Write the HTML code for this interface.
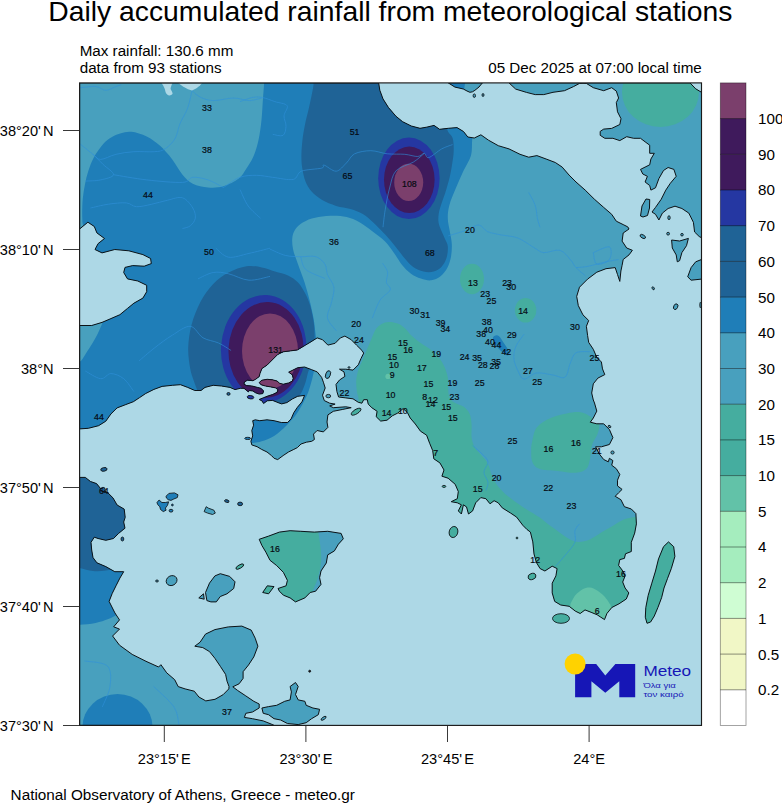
<!DOCTYPE html>
<html><head><meta charset="utf-8"><title>Daily accumulated rainfall</title>
<style>
html,body{margin:0;padding:0;background:#fff;}
body{width:782px;height:804px;overflow:hidden;font-family:"Liberation Sans",sans-serif;}
svg{display:block;font-family:"Liberation Sans",sans-serif;}
.title{font-size:28.3px;fill:#000;}
.sub{font-size:15.2px;fill:#000;}
.ax{font-size:14.6px;fill:#000;}
.cb{font-size:15.2px;fill:#000;}
.foot{font-size:15.3px;fill:#000;}
.st{font-size:8.8px;fill:#050a12;stroke:#050a12;stroke-width:0.2px;text-anchor:middle;}
</style></head><body>
<svg width="782" height="804" viewBox="0 0 782 804">
<rect width="782" height="804" fill="#fff"/>
<text x="390.4" y="21" class="title" text-anchor="middle">Daily accumulated rainfall from meteorological stations</text>
<text x="79.7" y="55.7" class="sub">Max rainfall: 130.6 mm</text>
<text x="79.7" y="72.6" class="sub">data from 93 stations</text>
<text x="701.8" y="72.6" class="sub" text-anchor="end">05 Dec 2025 at 07:00 local time</text>
<defs><clipPath id="frame"><rect x="79.6" y="82.9" width="621.9" height="642.5"/></clipPath>
<clipPath id="land"><path d="M79.6,82.9 L378.7,83.0 L379.8,90.2 L383.0,98.9 L388.5,107.6 L396.0,116.3 L402.6,121.7 L411.3,126.0 L420.0,128.3 L426.5,127.2 L434.0,125.4 L439.6,129.3 L448.3,128.3 L457.0,127.6 L463.5,131.5 L467.8,137.0 L474.3,138.0 L480.9,134.8 L488.5,140.2 L498.3,145.7 L509.0,148.9 L520.0,154.3 L528.7,157.2 L536.9,155.6 L546.1,159.0 L555.3,162.5 L562.2,167.1 L569.1,175.1 L576.0,182.0 L585.2,190.1 L594.5,199.3 L603.7,207.4 L611.7,214.3 L616.3,221.2 L623.2,224.6 L627.8,226.9 L629.0,229.0 L623.2,233.0 L622.1,241.1 L626.7,248.0 L632.4,250.3 L629.0,254.9 L623.2,259.5 L622.1,265.3 L620.9,271.0 L619.8,281.4 L617.5,274.5 L615.2,267.6 L606.0,268.7 L596.8,272.2 L587.6,279.1 L579.5,287.2 L576.7,296.4 L578.3,305.6 L582.9,314.8 L588.7,320.5 L586.4,326.3 L587.6,335.5 L588.7,342.4 L593.3,349.3 L596.8,357.4 L601.4,362.0 L602.5,368.9 L604.8,374.6 L597.9,378.1 L593.3,383.8 L591.7,393.0 L593.3,400.0 L594.5,403.0 L596.8,411.1 L593.3,418.0 L590.3,422.2 L596.8,423.8 L603.7,423.8 L609.4,429.5 L612.9,437.6 L609.4,444.5 L601.4,446.8 L595.6,446.8 L599.1,453.7 L603.7,459.5 L608.3,461.8 L609.4,458.3 L612.9,460.6 L611.7,465.2 L616.3,468.7 L619.8,474.4 L617.5,480.2 L617.5,485.9 L622.1,489.4 L618.6,492.8 L615.2,496.3 L620.9,499.7 L624.4,506.7 L631.3,509.0 L635.9,513.6 L636.4,523.9 L634.7,533.1 L631.3,542.3 L631.3,551.5 L625.5,553.8 L624.4,558.4 L619.8,559.6 L618.6,565.4 L622.1,570.0 L625.1,575.9 L622.7,582.0 L625.1,588.0 L628.8,592.9 L626.3,599.0 L619.0,603.8 L611.8,607.5 L606.9,613.5 L604.5,619.6 L600.8,617.2 L597.2,614.8 L591.1,612.3 L585.0,609.9 L580.2,613.5 L575.3,611.1 L569.2,606.3 L560.7,605.0 L554.7,601.4 L552.2,592.9 L552.2,583.2 L555.9,575.9 L557.1,568.6 L552.2,566.2 L544.9,571.0 L540.1,568.6 L536.4,562.5 L534.0,554.0 L532.8,541.9 L530.4,532.1 L526.9,529.4 L522.8,525.3 L516.6,517.1 L510.5,513.0 L502.3,507.9 L498.2,502.8 L494.1,500.7 L490.0,503.8 L485.9,498.7 L480.8,497.6 L475.7,502.8 L472.6,510.9 L468.5,514.0 L466.5,506.9 L463.4,504.8 L461.4,514.0 L458.3,510.9 L461.4,504.8 L457.3,502.8 L451.2,501.7 L457.3,498.7 L458.3,491.5 L455.2,484.3 L448.1,478.2 L441.9,476.2 L444.0,470.0 L439.9,462.9 L433.8,458.8 L432.7,450.6 L429.7,443.4 L426.6,435.2 L420.5,431.2 L415.3,424.0 L410.2,418.0 L407.4,412.5 L403.1,408.6 L397.7,413.1 L392.3,415.8 L387.0,420.2 L380.7,421.1 L376.2,416.7 L377.1,411.3 L371.8,407.7 L368.2,404.1 L367.3,399.7 L363.7,399.7 L361.9,403.2 L358.3,402.3 L353.0,398.8 L345.8,397.9 L338.6,397.0 L336.9,391.6 L336.0,384.4 L339.5,380.0 L344.9,376.4 L344.0,371.9 L339.5,369.2 L345.8,369.2 L353.0,370.1 L358.3,364.8 L361.0,358.5 L363.7,353.1 L361.9,350.4 L356.5,345.1 L351.2,339.7 L344.9,336.1 L340.4,337.9 L335.1,343.3 L327.9,345.1 L322.5,339.7 L317.2,337.9 L310.0,342.4 L305.2,345.3 L297.5,349.9 L290.3,350.9 L283.1,351.8 L277.7,354.5 L273.2,359.0 L267.2,365.0 L261.9,368.6 L260.1,373.1 L259.2,376.6 L255.6,379.3 L252.9,380.7 L247.5,380.2 L244.4,382.0 L244.0,384.2 L246.6,385.6 L252.0,386.0 L257.4,387.4 L261.0,388.3 L263.6,391.0 L262.8,393.6 L259.2,394.1 L255.6,392.8 L252.9,391.0 L249.3,390.5 L248.4,391.9 L244.0,388.3 L240.4,388.3 L235.0,389.6 L230.0,387.4 L221.4,386.0 L213.2,385.3 L205.0,387.4 L201.0,390.5 L194.8,390.5 L187.7,387.4 L180.5,384.7 L172.3,385.3 L162.1,386.4 L153.9,389.4 L145.7,393.5 L139.6,397.6 L133.4,401.7 L125.2,404.8 L117.1,407.9 L110.9,414.0 L105.8,421.2 L98.6,425.7 L88.4,428.3 L79.6,428.9 L79.6,325.5 L91.7,325.5 L102.0,322.4 L110.9,318.6 L119.9,314.7 L127.5,308.4 L133.9,303.2 L142.9,298.1 L146.7,291.7 L146.7,285.3 L137.8,281.0 L127.5,278.9 L123.7,272.5 L125.0,267.4 L132.7,265.6 L144.2,266.2 L151.3,263.6 L150.6,258.5 L142.9,254.6 L128.8,250.8 L114.8,249.5 L102.0,252.9 L95.0,249.5 L98.1,243.6 L104.5,238.5 L96.9,232.9 L94.3,226.5 L87.9,222.2 L79.6,229.0Z M448.3,82.9 L454.9,87.1 L459.0,88.0 L463.3,89.0 L467.0,91.0 L469.9,92.3 L472.5,91.8 L474.9,90.3 L479.0,87.0 L482.4,82.9Z M509.0,82.9 L515.7,89.1 L526.5,92.4 L535.2,94.6 L543.8,94.6 L553.0,92.3 L564.5,90.7 L573.7,86.5 L579.5,83.4 L583.0,83.2 L586.4,83.4 L593.3,87.7 L603.7,90.7 L611.7,87.7 L616.3,91.1 L618.6,98.0 L616.3,102.6 L617.5,111.8 L621.0,118.7 L619.8,124.5 L611.7,128.4 L603.7,129.1 L600.2,131.4 L600.2,135.3 L604.8,138.3 L612.9,138.3 L619.8,140.6 L626.7,136.7 L633.6,138.3 L640.5,138.3 L645.1,141.8 L649.7,145.2 L649.7,153.3 L654.3,153.3 L650.9,159.0 L649.7,164.8 L645.1,167.1 L640.5,169.4 L642.8,174.0 L647.4,176.3 L645.1,182.0 L649.7,185.5 L650.9,190.1 L655.5,187.8 L658.9,178.6 L663.5,170.5 L668.1,167.5 L673.9,169.4 L676.2,176.3 L670.4,183.2 L665.8,190.1 L661.2,199.3 L655.5,207.4 L652.0,212.0 L655.5,214.3 L658.9,220.0 L662.4,213.1 L668.1,208.5 L675.0,206.2 L681.9,208.5 L688.8,213.1 L693.4,222.3 L694.6,232.0 L699.2,236.5 L701.5,237.7 L701.5,92.3 L695.7,88.8 L690.0,82.9Z M701.5,259.5 L695.7,261.8 L691.1,267.6 L687.7,276.8 L691.1,280.2 L701.5,279.1Z M79.6,477.4 L85.3,477.4 L90.5,481.5 L96.6,483.6 L100.7,488.7 L107.9,492.8 L113.0,497.9 L117.1,505.0 L124.2,509.1 L125.2,517.3 L123.7,522.0 L125.0,528.2 L118.6,533.4 L113.5,538.5 L105.8,540.3 L98.1,538.5 L94.3,537.2 L91.0,542.3 L91.7,550.0 L93.0,557.6 L96.9,562.8 L105.8,566.6 L114.8,571.7 L123.7,571.7 L119.9,578.1 L116.0,585.8 L112.2,593.5 L109.1,601.4 L114.9,612.9 L119.5,619.9 L113.7,626.8 L119.5,629.1 L112.6,636.0 L119.5,645.2 L132.2,654.4 L146.0,661.3 L158.6,667.0 L160.9,664.7 L166.7,672.8 L174.7,679.7 L178.2,686.6 L185.1,688.9 L194.3,691.2 L198.9,697.0 L205.8,700.9 L215.0,699.3 L223.1,694.7 L228.8,688.9 L229.0,686.5 L227.0,681.1 L225.6,674.4 L220.3,666.3 L214.9,658.3 L209.5,651.6 L202.8,647.6 L194.8,646.2 L200.1,642.2 L205.5,634.1 L214.9,629.6 L228.3,626.9 L241.8,626.1 L251.2,630.1 L255.2,638.2 L257.9,646.2 L253.8,656.9 L248.5,665.0 L243.1,671.7 L243.1,678.4 L239.1,683.8 L232.8,686.8 L237.7,690.5 L245.8,695.9 L253.8,701.3 L259.2,704.0 L259.2,708.0 L252.5,712.0 L245.8,713.3 L244.4,717.4 L252.5,718.7 L263.2,720.9 L271.3,724.1 L274.0,725.4 L79.6,725.4Z M259.2,382.5 L261.9,380.2 L267.2,379.3 L272.6,379.8 L277.1,381.1 L279.8,383.4 L283.3,384.2 L288.7,382.9 L292.3,381.1 L293.2,378.4 L292.3,374.8 L288.7,372.2 L292.3,370.4 L297.7,367.7 L304.6,367.0 L311.7,369.7 L317.2,371.9 L321.6,377.3 L323.4,382.2 L325.2,388.0 L322.5,395.2 L324.3,400.6 L329.7,403.2 L335.1,404.1 L329.7,405.9 L333.3,407.7 L345.8,406.8 L351.2,407.7 L342.2,409.5 L333.3,411.3 L327.9,414.9 L327.0,422.0 L327.9,427.4 L323.4,431.9 L317.1,430.5 L313.5,434.1 L314.4,439.5 L311.7,441.3 L306.4,442.2 L301.0,444.0 L297.4,447.6 L293.8,449.4 L288.5,452.0 L283.1,455.6 L277.7,459.6 L274.1,458.3 L271.5,455.6 L267.0,452.0 L261.6,449.4 L257.1,446.7 L251.8,444.9 L250.9,441.3 L252.7,435.9 L251.8,430.6 L253.6,425.2 L252.7,420.7 L255.3,419.8 L259.8,420.7 L267.0,419.8 L274.1,420.7 L281.3,422.5 L287.6,422.5 L291.1,418.9 L293.8,412.7 L297.4,407.3 L301.9,401.9 L304.6,395.4 L297.7,396.3 L292.3,399.0 L286.9,402.6 L281.6,403.9 L278.0,402.6 L272.6,400.4 L267.2,400.8 L263.6,403.5 L261.9,400.8 L259.2,399.5 L263.6,397.7 L268.1,395.9 L272.6,394.5 L277.1,392.3 L278.0,389.6 L275.3,387.8 L270.8,386.9 L265.4,386.0 L261.0,384.7Z M259.2,539.3 L268.6,536.1 L279.4,532.1 L290.1,530.7 L300.8,531.3 L314.3,532.1 L327.7,531.3 L341.1,533.4 L343.3,538.8 L338.4,544.2 L334.4,550.9 L327.7,554.9 L326.3,563.0 L321.0,571.0 L319.6,577.7 L321.0,584.4 L315.6,591.2 L310.2,592.5 L304.9,597.9 L295.5,601.9 L290.1,597.9 L283.4,595.2 L279.4,591.2 L278.0,588.5 L286.1,585.8 L287.4,580.4 L283.4,572.4 L276.7,565.6 L270.0,560.3 L265.9,552.2 L261.9,545.5Z M262.7,592.5 L267.3,585.8 L274.0,586.6 L268.6,593.8Z M206.9,600.6 L205.5,592.5 L209.5,583.1 L214.9,575.9 L220.3,573.7 L229.7,576.4 L235.0,581.8 L233.7,588.5 L227.0,593.8 L220.3,596.5 L216.3,601.9 L210.9,601.9Z M198.8,597.9 L203.5,593.8 L204.2,599.2Z M261.9,708.0 L268.6,706.6 L276.7,705.3 L284.7,701.3 L290.1,699.9 L291.4,691.9 L290.1,686.5 L295.5,682.5 L298.2,686.5 L295.5,694.5 L298.2,699.9 L304.9,701.3 L306.2,705.3 L312.9,708.0 L319.6,709.3 L318.3,714.7 L311.6,718.7 L306.2,722.7 L298.2,724.6 L287.4,723.5 L280.7,720.0 L274.0,718.7 L268.6,714.7 L263.2,713.3Z M668.5,541.9 L663.5,546.7 L658.5,558.9 L655.5,571.0 L651.8,583.2 L648.2,595.3 L645.8,607.5 L645.3,617.2 L647.0,623.3 L650.6,622.0 L654.3,616.0 L657.9,607.5 L661.6,597.7 L664.0,588.0 L667.6,578.3 L671.3,568.6 L674.9,556.4 L673.7,546.7Z M671.6,240.0 L679.6,241.0 L688.4,238.4 L686.5,245.7 L681.9,252.6 L679.6,260.7 L677.3,261.8 L676.2,254.9 L672.3,248.0Z M640.5,216.0 L642.0,206.0 L646.0,199.0 L649.7,199.5 L649.5,208.0 L647.5,215.5 L643.0,217.0Z"/></clipPath></defs>
<g clip-path="url(#frame)">
<rect x="79.6" y="82.9" width="621.9" height="642.5" fill="#add8e6"/>
<g clip-path="url(#land)">
<rect x="79.6" y="82.9" width="621.9" height="642.5" fill="#48a0be"/>
<path d="M60.0,232.0 C63.8,232.0 78.8,233.7 82.5,232.0 C86.2,230.3 82.5,225.3 82.4,222.0 C82.4,218.7 82.1,215.9 82.2,212.0 C82.3,208.1 82.3,203.0 82.8,198.5 C83.2,194.0 84.0,189.4 84.9,184.8 C85.8,180.2 86.8,175.7 88.3,171.1 C89.8,166.5 91.3,162.0 93.8,157.4 C96.3,152.8 100.4,147.1 103.4,143.7 C106.4,140.3 109.1,138.7 112.0,137.0 C114.9,135.3 117.8,134.2 121.0,133.3 C124.2,132.4 127.1,131.3 131.4,131.8 C135.7,132.3 142.0,134.2 146.7,136.4 C151.4,138.7 155.2,141.5 159.5,145.3 C163.8,149.1 168.5,154.5 172.3,159.4 C176.1,164.3 179.1,170.6 182.5,174.7 C185.9,178.8 188.6,181.6 192.8,183.7 C197.1,185.8 202.9,187.1 208.0,187.5 C213.1,187.9 218.4,187.8 223.5,186.3 C228.6,184.8 235.0,181.5 238.8,178.6 C242.6,175.7 243.7,172.7 246.1,169.1 C248.5,165.5 251.2,161.6 253.3,156.8 C255.4,152.0 257.0,146.6 258.4,140.5 C259.8,134.4 260.8,126.8 261.5,120.0 C262.2,113.2 262.5,105.8 262.9,99.6 C263.3,93.4 263.9,87.7 264.1,82.8 C264.3,77.9 264.3,72.1 264.3,70.0 L474.0,120.0 C473.7,123.2 472.7,133.1 472.2,139.0 C471.7,144.9 472.4,150.1 471.0,155.4 C469.6,160.7 466.0,165.3 463.5,170.7 C461.0,176.1 458.3,182.2 455.9,188.0 C453.5,193.8 450.6,200.3 449.3,205.4 C448.0,210.5 447.7,214.1 447.8,218.4 C447.9,222.7 449.1,226.9 449.8,231.2 C450.5,235.4 451.6,239.7 451.8,243.9 C452.0,248.2 451.7,252.8 451.0,256.7 C450.3,260.6 449.2,264.2 447.5,267.5 C445.8,270.8 443.2,274.1 440.5,276.2 C437.8,278.3 434.4,279.9 431.1,280.3 C427.8,280.7 424.3,279.6 420.9,278.5 C417.5,277.4 413.9,275.8 410.7,273.4 C407.5,271.0 404.5,267.8 401.7,264.4 C398.9,261.0 396.8,256.7 394.0,252.9 C391.2,249.1 388.7,245.0 385.1,241.4 C381.5,237.8 376.6,234.4 372.3,231.2 C368.0,228.0 363.8,224.5 359.5,222.2 C355.2,219.8 351.0,218.2 346.7,217.1 C342.4,216.0 338.6,215.8 333.9,215.8 C329.2,215.8 323.3,216.2 318.6,217.1 C313.9,217.9 309.4,219.2 305.8,220.9 C302.2,222.6 299.1,224.7 296.9,227.3 C294.7,229.9 293.1,232.7 292.5,236.3 C291.9,239.9 292.1,244.4 293.0,249.1 C293.9,253.8 296.2,258.9 298.1,264.4 C300.0,269.9 302.6,276.3 304.5,282.3 C306.4,288.3 308.1,294.2 309.6,300.2 C311.1,306.2 312.5,312.6 313.5,318.1 C314.5,323.7 315.0,329.0 315.5,333.5 C316.0,338.0 316.4,340.6 316.5,345.0 C316.6,349.4 316.5,355.3 316.0,360.0 C315.5,364.7 314.4,369.1 313.5,373.3 C312.6,377.5 311.7,381.1 310.5,385.0 C309.3,388.9 308.6,391.9 306.4,396.5 C304.2,401.1 300.7,407.9 297.4,412.7 C294.1,417.5 290.6,421.3 286.7,425.2 C282.8,429.1 278.3,433.2 274.1,435.9 C269.9,438.6 265.2,440.1 261.6,441.3 C258.0,442.5 256.6,442.5 252.7,443.1 C248.8,443.7 240.4,444.7 238.0,445.0 L60.0,470.0 Z" fill="#1f7eb8" />
<path d="M70.0,318.0 C75.7,318.0 98.7,317.0 104.0,318.0 C109.3,319.0 103.4,320.7 102.0,324.0 C100.6,327.3 98.4,332.7 95.6,337.8 C92.8,342.9 88.0,350.4 85.3,354.4 C82.6,358.4 82.0,360.4 79.5,362.0 C77.0,363.6 71.6,363.7 70.0,364.0 Z" fill="#48a0be" />
<path d="M70.0,540.0 C80.8,540.0 124.2,529.0 135.0,540.0 C145.8,551.0 137.7,593.7 135.0,606.0 C132.3,618.3 123.0,611.7 118.6,613.9 C114.2,616.1 112.2,617.5 108.4,619.0 C104.6,620.5 100.4,621.9 95.6,622.9 C90.8,623.9 83.9,624.4 79.6,624.7 C75.3,625.1 71.6,625.0 70.0,625.0 Z" fill="#1f7eb8" />
<ellipse cx="117.5" cy="727" rx="35" ry="33" fill="#1f7eb8"/>
<path d="M494.3,336.0 C495.3,335.4 497.2,334.8 498.8,336.0 C500.4,337.2 502.1,340.3 503.8,343.0 C505.6,345.7 508.7,349.9 509.3,352.0 C509.9,354.1 508.7,355.8 507.3,355.6 C505.9,355.4 502.9,352.7 501.0,351.0 C499.1,349.3 497.3,347.4 496.0,345.5 C494.7,343.6 493.3,341.1 493.0,339.5 C492.7,337.9 493.3,336.6 494.3,336.0Z" fill="#1f7eb8" />
<path d="M446.0,80.0 L465.5,80.0 L463.5,94.0 L446.0,94.0Z" fill="#1f7eb8" />
<path d="M197.9,392.0 C197.2,390.0 194.8,383.9 193.5,380.0 C192.2,376.1 191.1,373.8 190.2,368.5 C189.3,363.2 188.0,355.2 188.2,348.0 C188.4,340.8 189.5,332.7 191.5,325.0 C193.5,317.3 196.8,308.8 200.4,302.0 C204.0,295.2 208.5,288.9 213.2,284.0 C217.9,279.1 223.0,275.5 228.6,272.5 C234.2,269.5 241.0,267.1 246.5,266.2 C252.0,265.3 257.1,266.5 261.8,267.4 C266.6,268.3 270.6,270.1 275.0,271.5 C279.4,272.9 284.2,273.7 288.0,275.5 C291.8,277.3 295.2,279.6 298.0,282.5 C300.8,285.4 303.0,289.2 305.0,293.0 C307.0,296.8 308.6,300.3 310.0,305.0 C311.4,309.7 312.8,316.3 313.6,321.4 C314.4,326.5 314.5,330.9 314.6,335.7 C314.7,340.5 314.5,345.4 314.0,350.0 C313.5,354.6 312.5,359.3 311.5,363.0 C310.5,366.7 309.3,368.5 308.2,372.0 C307.1,375.5 306.4,380.2 305.0,384.0 C303.6,387.8 302.2,391.8 300.0,395.0 C297.8,398.2 295.7,401.0 292.0,403.0 C288.3,405.0 283.0,406.3 278.0,407.0 C273.0,407.7 267.5,407.7 262.0,407.0 C256.5,406.3 251.2,404.3 245.0,403.0 C238.8,401.7 231.7,400.3 225.0,399.0 C218.3,397.7 208.3,395.7 205.0,395.0 Z" fill="#1f6396" />
<path d="M313.7,70.0 C313.7,72.1 314.0,78.5 313.7,82.8 C313.4,87.0 312.5,91.0 311.6,95.5 C310.7,100.0 309.6,105.0 308.5,109.8 C307.4,114.6 306.1,119.0 305.1,124.1 C304.1,129.2 303.0,135.1 302.4,140.5 C301.8,145.9 301.4,152.0 301.4,156.8 C301.4,161.6 301.7,165.0 302.4,169.1 C303.1,173.2 304.0,177.7 305.5,181.4 C307.0,185.2 308.9,188.5 311.6,191.6 C314.3,194.7 317.7,197.4 321.8,199.8 C325.9,202.2 331.4,204.4 336.2,205.9 C341.0,207.4 346.1,207.6 350.5,209.0 C354.9,210.4 359.1,211.9 362.8,214.1 C366.6,216.3 369.6,219.2 373.0,222.3 C376.4,225.4 380.3,229.5 383.2,232.5 C386.1,235.5 388.1,237.6 390.5,240.5 C392.9,243.4 395.4,246.7 397.9,249.8 C400.4,252.9 402.9,256.4 405.5,259.3 C408.1,262.2 410.2,264.9 413.2,267.0 C416.2,269.1 420.1,270.8 423.5,271.6 C426.9,272.4 430.7,272.4 433.7,271.6 C436.7,270.8 439.3,269.3 441.4,267.0 C443.5,264.7 445.4,261.4 446.5,258.0 C447.6,254.6 448.1,249.7 447.8,246.5 C447.6,243.3 446.0,241.5 445.0,239.0 C444.0,236.5 442.8,234.2 441.7,231.5 C440.6,228.8 439.1,225.9 438.6,222.8 C438.1,219.8 438.3,216.5 438.8,213.2 C439.3,209.9 440.6,206.5 441.7,203.0 C442.8,199.5 444.2,196.2 445.5,192.0 C446.8,187.8 448.4,182.5 449.5,178.0 C450.6,173.5 451.3,169.5 452.0,165.0 C452.7,160.5 453.6,155.5 453.7,151.0 C453.8,146.5 453.7,141.6 452.6,138.0 C451.5,134.4 448.1,134.0 447.2,129.3 C446.3,124.6 447.0,113.2 447.0,110.0 L447.0,70.0 Z" fill="#1f6396" />
<path d="M70.0,470.0 C80.8,470.0 124.2,457.5 135.0,470.0 C145.8,482.5 137.5,529.0 135.0,545.0 C132.5,561.0 124.9,561.8 120.0,566.0 C115.1,570.2 110.3,569.6 105.8,570.4 C101.3,571.2 97.4,571.4 93.0,571.0 C88.6,570.6 83.4,568.6 79.6,567.9 C75.8,567.2 71.6,567.1 70.0,567.0 Z" fill="#1f6396" />
<g fill="#2537a2"><ellipse cx="263.7" cy="349" rx="42.7" ry="54" transform="rotate(3 263.7 349)"/><ellipse cx="408.9" cy="178.3" rx="30.7" ry="40.7" transform="rotate(0 408.9 178.3)"/></g>
<g fill="#3f1a5c"><ellipse cx="266" cy="350" rx="37.5" ry="48" transform="rotate(3 266 350)"/><ellipse cx="409.3" cy="179.8" rx="25.3" ry="33.2" transform="rotate(0 409.3 179.8)"/></g>
<g fill="#7b3f6c"><ellipse cx="270" cy="351" rx="28" ry="37.5" transform="rotate(0 270 351)"/><ellipse cx="408.7" cy="182.4" rx="14.5" ry="18.7" transform="rotate(0 408.7 182.4)"/></g>
<path d="M350.0,415.0 C351.4,412.8 357.2,405.4 358.3,401.5 C359.4,397.6 357.2,395.0 356.9,391.6 C356.5,388.2 356.0,384.5 356.2,380.9 C356.4,377.3 357.2,373.7 358.3,370.1 C359.4,366.5 361.3,363.0 362.8,359.4 C364.3,355.8 365.8,352.2 367.3,348.6 C368.8,345.0 370.3,341.2 371.8,337.9 C373.3,334.6 374.6,330.9 376.2,328.6 C377.8,326.3 379.5,325.0 381.6,323.9 C383.7,322.8 386.1,322.1 388.8,322.0 C391.5,321.9 395.0,322.6 397.7,323.6 C400.4,324.6 402.5,326.1 404.9,328.2 C407.3,330.3 409.3,333.6 412.0,336.1 C414.7,338.6 417.7,340.9 421.0,343.3 C424.3,345.7 428.7,348.0 431.7,350.4 C434.7,352.8 436.8,354.9 438.9,357.6 C441.0,360.3 442.8,363.2 444.3,366.5 C445.8,369.8 447.2,374.0 447.8,377.3 C448.4,380.6 447.9,382.9 448.1,386.1 C448.3,389.3 448.1,393.7 449.1,396.4 C450.1,399.1 451.8,400.8 454.2,402.5 C456.6,404.2 460.8,404.7 463.4,406.6 C466.0,408.5 468.2,410.7 469.6,413.8 C471.0,416.9 471.3,421.1 471.6,425.0 C471.9,428.9 471.1,433.6 471.6,437.3 C472.1,441.1 473.0,444.4 474.7,447.5 C476.4,450.6 479.6,453.0 481.8,455.7 C484.0,458.4 486.3,460.5 488.0,463.9 C489.7,467.3 490.4,472.4 492.1,476.2 C493.8,479.9 495.5,483.0 498.2,486.4 C500.9,489.8 504.3,493.2 508.4,496.6 C512.5,500.0 517.7,503.5 522.8,506.9 C527.9,510.3 535.2,514.5 539.1,517.1 C543.0,519.7 543.2,520.4 546.0,522.5 C548.8,524.6 552.2,527.1 555.9,529.7 C559.6,532.3 564.4,536.2 568.0,538.2 C571.6,540.2 574.1,541.7 577.7,541.9 C581.4,542.1 585.9,541.0 589.9,539.4 C593.9,537.8 598.0,534.5 602.0,532.1 C606.0,529.7 610.5,527.0 614.2,524.9 C617.9,522.8 621.0,520.6 624.4,519.3 C627.8,518.0 630.4,517.9 634.7,517.0 C639.0,516.1 647.5,514.5 650.0,514.0 L690.0,514.0 L690.0,640.0 L500.0,640.0 L400.0,470.0 Z" fill="#45ad9f" />
<path d="M532.3,441.0 C533.2,437.2 533.8,431.0 536.9,427.2 C540.0,423.4 545.7,420.3 550.7,418.0 C555.7,415.7 561.8,414.3 566.8,413.4 C571.8,412.4 576.6,411.7 580.6,412.3 C584.6,412.9 587.9,415.0 591.0,416.9 C594.1,418.8 597.9,420.9 599.0,423.8 C600.1,426.7 598.6,430.7 597.5,434.1 C596.4,437.6 593.5,440.3 592.2,444.5 C590.9,448.7 590.9,455.5 589.9,459.5 C588.9,463.5 588.7,466.5 586.4,468.7 C584.1,470.9 580.8,472.4 576.0,472.8 C571.2,473.2 563.7,471.7 557.6,471.0 C551.5,470.3 543.4,470.2 539.2,468.7 C535.0,467.2 533.6,464.9 532.3,461.8 C531.0,458.7 531.2,453.7 531.2,450.2 C531.2,446.7 531.3,444.8 532.3,441.0Z" fill="#45ad9f" />
<g fill="#45ad9f"><ellipse cx="472" cy="279" rx="12" ry="15.3" transform="rotate(0 472 279)"/><ellipse cx="525.6" cy="310.2" rx="10.7" ry="12.3" transform="rotate(0 525.6 310.2)"/><ellipse cx="660.5" cy="92" rx="38.5" ry="35" transform="rotate(0 660.5 92)"/></g>
<path d="M259.2,539.3 L268.6,536.1 L279.4,532.1 L290.1,530.7 L300.8,531.3 L314.3,532.1 L327.7,531.3 L341.1,533.4 L343.3,538.8 L338.4,544.2 L334.4,550.9 L327.7,554.9 L326.3,563.0 L321.0,571.0 L319.6,577.7 L321.0,584.4 L315.6,591.2 L310.2,592.5 L304.9,597.9 L295.5,601.9 L290.1,597.9 L283.4,595.2 L279.4,591.2 L278.0,588.5 L286.1,585.8 L287.4,580.4 L283.4,572.4 L276.7,565.6 L270.0,560.3 L265.9,552.2 L261.9,545.5Z" fill="#45ad9f" />
<path d="M262.7,592.5 L267.3,585.8 L274.0,586.6 L268.6,593.8Z" fill="#45ad9f" />
<path d="M317.0,525.0 C317.6,528.6 319.8,540.6 320.5,546.9 C321.2,553.2 321.5,557.6 321.0,563.0 C320.5,568.4 318.9,574.4 317.5,579.0 C316.1,583.6 314.3,586.6 312.9,590.4 C311.5,594.2 309.6,600.1 309.0,602.0 L352.0,602.0 L352.0,525.0 Z" fill="#48a0be" />
<path d="M570.5,603.8 C571.3,602.4 573.3,597.7 575.3,595.3 C577.3,592.9 580.2,590.5 582.6,589.2 C585.0,587.9 587.5,587.3 589.9,587.5 C592.3,587.7 594.8,589.0 597.2,590.5 C599.6,592.0 602.3,594.1 604.5,596.5 C606.7,598.9 609.6,603.6 610.6,605.0 L614.0,626.0 L568.0,626.0 Z" fill="#62c2a8" />
<circle cx="388" cy="376.4" r="2.6" fill="#62c2a8"/>
<path d="M80,87.8 C82.6,87.6 91.3,86.1 95.6,86.5 C99.9,86.9 102.4,90.3 105.8,90.3 C109.2,90.3 113.4,87.4 116.0,86.5 C118.6,85.6 120.3,85.0 121.2,84.7" fill="none" stroke="#3192dc" stroke-opacity="0.7" stroke-width="0.85"/>
<path d="M192.1,90.5 C191.3,93.5 189.6,102.7 187.6,108.2 C185.6,113.7 182.1,118.5 180.0,123.6 C177.9,128.7 177.5,134.6 174.9,138.9 C172.3,143.2 168.0,147.1 164.6,149.2 C161.2,151.3 159.5,151.3 154.4,151.7 C149.3,152.1 140.3,151.3 133.9,151.7 C127.5,152.1 121.5,153.0 116.0,154.3 C110.5,155.6 104.5,159.4 100.7,159.4 C96.9,159.4 96.4,156.9 93.0,154.3 C89.6,151.7 82.3,145.7 80.2,144.0" fill="none" stroke="#3192dc" stroke-opacity="0.7" stroke-width="0.85"/>
<path d="M192.1,90.5 C193.4,91.6 196.5,95.3 200.0,97.0 C203.5,98.7 207.6,100.4 213.2,100.6 C218.8,100.8 227.7,98.0 233.7,98.0 C239.7,98.0 244.3,100.6 249.0,100.6 C253.7,100.6 259.7,98.4 261.8,98.0" fill="none" stroke="#3192dc" stroke-opacity="0.7" stroke-width="0.85"/>
<path d="M93,154.3 C94.7,156.0 99.8,161.1 103.2,164.5 C106.6,167.9 113.9,172.1 113.5,174.7 C113.1,177.3 105.4,178.8 100.7,179.9 C96.0,181.0 87.9,180.9 85.3,181.1" fill="none" stroke="#3192dc" stroke-opacity="0.7" stroke-width="0.85"/>
<path d="M113.5,174.7 C119.0,175.6 135.2,178.6 146.7,179.9 C158.2,181.2 174.8,182.8 182.5,182.4 C190.2,182.0 188.6,177.7 192.8,177.3 C197.1,176.9 202.9,178.2 208.0,179.9 C213.1,181.6 220.9,186.2 223.5,187.5" fill="none" stroke="#3192dc" stroke-opacity="0.7" stroke-width="0.85"/>
<path d="M90.5,208 C93.5,207.4 102.4,205.0 108.4,204.2 C114.4,203.3 121.6,202.5 126.3,202.9 C131.0,203.3 132.2,206.5 136.5,206.7 C140.8,206.9 146.7,205.3 151.8,204.2 C156.9,203.1 162.1,201.4 167.2,200.3 C172.3,199.2 178.2,196.5 182.5,197.8 C186.8,199.1 190.7,204.6 192.8,208.0 C194.9,211.4 195.7,215.2 195.3,218.2 C194.9,221.2 192.3,224.2 190.2,225.9 C188.1,227.6 183.8,228.1 182.5,228.5" fill="none" stroke="#3192dc" stroke-opacity="0.7" stroke-width="0.85"/>
<path d="M240,101.6 C242.1,100.9 248.6,98.2 252.3,97.5 C256.1,96.8 258.8,96.8 262.5,97.5 C266.2,98.2 270.7,100.2 274.8,101.6 C278.9,103.0 285.6,103.3 287.1,105.7 C288.6,108.1 284.2,112.5 284.0,115.9 C283.8,119.3 286.2,123.0 286.0,126.2 C285.8,129.4 285.2,134.1 283.0,135.4 C280.8,136.8 274.4,134.5 272.7,134.3" fill="none" stroke="#3192dc" stroke-opacity="0.7" stroke-width="0.85"/>
<path d="M223.5,187.5 C226.2,185.8 234.5,179.3 240.0,177.3 C245.5,175.3 250.9,175.3 256.4,175.3 C261.8,175.3 266.6,176.6 272.7,177.3 C278.8,178.0 288.4,180.4 293.2,179.4 C298.0,178.4 296.6,173.1 301.4,171.2 C306.2,169.3 318.1,169.1 321.8,168.1 C325.6,167.1 321.5,164.5 323.9,165.0 C326.3,165.5 332.4,171.5 336.2,171.2 C339.9,170.9 343.3,165.9 346.4,163.0 C349.5,160.1 350.5,155.9 354.6,153.8 C358.7,151.8 365.4,150.7 370.9,150.7 C376.3,150.7 381.6,153.2 387.3,153.8 C393.0,154.4 399.7,153.9 404.8,154.3 C409.9,154.8 414.6,156.7 417.8,156.5 C421.1,156.3 422.5,153.1 424.3,153.3 C426.1,153.5 425.8,158.3 428.7,157.6 C431.6,156.9 437.7,151.1 441.7,148.9 C445.7,146.7 450.8,145.3 452.6,144.6" fill="none" stroke="#3192dc" stroke-opacity="0.7" stroke-width="0.85"/>
<path d="M240,189.6 C241.4,192.3 244.8,201.2 248.2,206.0 C251.6,210.8 258.4,216.2 260.5,218.2" fill="none" stroke="#3192dc" stroke-opacity="0.7" stroke-width="0.85"/>
<path d="M424.3,153.3 C422.5,154.8 418.2,159.1 413.5,162.0 C408.8,164.9 400.1,166.4 396.1,170.7 C392.1,175.0 391.4,181.5 389.6,188.0 C387.8,194.5 386.3,203.3 385.2,209.8 C384.1,216.3 383.4,224.3 383.0,227.2" fill="none" stroke="#3192dc" stroke-opacity="0.7" stroke-width="0.85"/>
<path d="M448.3,235.9 C451.2,235.0 460.6,232.2 465.7,230.4 C470.8,228.6 475.1,224.8 478.7,225.0 C482.3,225.2 483.8,229.9 487.4,231.5 C491.0,233.1 495.3,233.7 500.4,234.8 C505.5,235.9 512.1,235.8 517.8,238.0 C523.5,240.2 530.3,245.6 534.6,248.0 C538.9,250.4 539.6,252.2 543.8,252.6 C548.0,253.0 555.5,249.2 559.9,250.3 C564.3,251.5 567.6,256.6 570.3,259.5 C573.0,262.4 573.5,264.9 576.0,267.6 C578.5,270.3 583.7,274.3 585.2,275.6" fill="none" stroke="#3192dc" stroke-opacity="0.7" stroke-width="0.85"/>
<path d="M528.7,192.4 C529.8,194.6 533.8,201.1 535.2,205.4 C536.7,209.8 536.6,214.9 537.4,218.5 C538.2,222.1 539.6,225.8 540.0,227.2" fill="none" stroke="#3192dc" stroke-opacity="0.7" stroke-width="0.85"/>
<path d="M270,249.1 C272.6,250.2 280.2,254.1 285.3,255.4 C290.4,256.7 295.6,256.5 300.7,256.7 C305.8,256.9 311.9,255.4 316.0,256.7 C320.1,258.0 323.1,261.4 325.0,264.4 C326.9,267.4 326.0,270.8 327.5,274.6 C329.0,278.4 333.2,282.7 333.9,287.4 C334.5,292.1 332.5,297.7 331.4,302.8 C330.3,307.9 326.6,313.4 327.5,318.1 C328.4,322.8 335.0,328.8 336.5,330.9" fill="none" stroke="#3192dc" stroke-opacity="0.7" stroke-width="0.85"/>
<path d="M300.7,256.7 C301.6,258.8 301.8,265.9 305.8,269.5 C309.9,273.1 321.8,277.0 325.0,278.5" fill="none" stroke="#3192dc" stroke-opacity="0.7" stroke-width="0.85"/>
<path d="M382.5,263.1 C383.4,264.6 387.0,268.9 387.6,272.1 C388.2,275.3 386.0,279.3 386.4,282.3 C386.8,285.3 391.3,287.0 390.2,290.0 C389.1,293.0 383.0,295.5 380.0,300.2 C377.0,304.9 373.6,315.1 372.3,318.1" fill="none" stroke="#3192dc" stroke-opacity="0.7" stroke-width="0.85"/>
<path d="M524.1,334.1 C522.7,336.2 517.6,342.3 515.9,346.4 C514.2,350.5 513.5,354.6 513.9,358.7 C514.2,362.8 516.3,367.5 518.0,370.9 C519.7,374.3 521.0,378.8 524.1,379.1 C527.2,379.5 531.6,373.7 536.4,373.0 C541.2,372.3 548.0,374.3 552.8,375.0 C557.6,375.7 562.1,379.1 565.0,377.1 C567.9,375.1 568.5,367.2 570.3,363.1 C572.1,359.1 572.7,354.7 576.0,352.8 C579.3,350.9 587.6,351.8 589.9,351.6" fill="none" stroke="#3192dc" stroke-opacity="0.7" stroke-width="0.85"/>
<path d="M593.3,252.6 C596.0,251.7 606.7,245.8 609.4,246.9 C612.1,248.1 611.5,256.6 609.4,259.5 C607.3,262.4 599.5,265.2 596.8,264.1 C594.1,263.0 593.9,254.5 593.3,252.6" fill="none" stroke="#3192dc" stroke-opacity="0.7" stroke-width="0.85"/>
<path d="M576,267.6 C577.9,267.4 582.6,267.4 587.6,266.4 C592.6,265.4 600.8,262.9 606.0,261.8 C611.2,260.7 616.5,259.9 618.6,259.5" fill="none" stroke="#3192dc" stroke-opacity="0.7" stroke-width="0.85"/>
<path d="M579.5,523.9 C578.7,525.0 575.7,527.7 574.9,530.8 C574.1,533.9 576.6,538.1 574.9,542.3 C573.2,546.5 567.8,552.1 564.5,556.1 C561.2,560.1 556.8,564.8 555.3,566.5" fill="none" stroke="#3192dc" stroke-opacity="0.7" stroke-width="0.85"/>
<path d="M472.6,445.5 C474.1,446.9 479.2,451.0 481.8,453.7 C484.4,456.4 487.6,458.7 488.0,461.8 C488.4,464.9 483.9,468.7 483.9,472.1 C483.9,475.5 487.7,479.2 488.0,482.3 C488.3,485.4 486.2,489.1 485.9,490.5" fill="none" stroke="#3192dc" stroke-opacity="0.7" stroke-width="0.85"/>
<path d="M197.9,278.9 C200.4,277.8 208.1,273.4 213.2,272.5 C218.3,271.6 222.6,272.5 228.6,273.8 C234.6,275.1 242.1,279.8 249.0,280.2 C255.9,280.6 266.5,277.0 270.0,276.4" fill="none" stroke="#3192dc" stroke-opacity="0.7" stroke-width="0.85"/>
<path d="M139.1,360.8 C141.7,358.7 148.9,352.3 154.4,348.0 C159.9,343.7 166.3,338.8 172.3,335.2 C178.3,331.6 185.1,325.9 190.2,326.3 C195.3,326.7 198.3,335.0 203.0,337.8 C207.7,340.6 213.6,340.8 218.3,342.9 C223.0,345.0 229.0,349.2 231.1,350.5" fill="none" stroke="#3192dc" stroke-opacity="0.7" stroke-width="0.85"/>
<path d="M85.3,371 C87.9,372.3 96.4,378.3 100.7,378.7 C105.0,379.1 107.1,373.6 110.9,373.6 C114.7,373.6 119.9,375.7 123.7,378.7 C127.5,381.7 132.2,389.4 133.9,391.5" fill="none" stroke="#3192dc" stroke-opacity="0.7" stroke-width="0.85"/>
<path d="M215.8,248.2 C217.9,249.7 223.1,256.3 228.6,257.2 C234.1,258.1 242.1,254.9 249.0,253.4 C255.9,251.9 266.5,249.1 270.0,248.2" fill="none" stroke="#3192dc" stroke-opacity="0.7" stroke-width="0.85"/>
<path d="M84.4,660.9 C88.2,661.8 103.1,661.8 107.4,666.0 C111.7,670.2 110.8,679.6 110.0,686.4 C109.2,693.2 103.6,703.5 102.3,706.9" fill="none" stroke="#3192dc" stroke-opacity="0.7" stroke-width="0.85"/>
<path d="M153.5,686.4 C156.9,689.8 169.7,700.4 173.9,706.9 C178.2,713.4 178.2,722.2 179.0,725.3" fill="none" stroke="#3192dc" stroke-opacity="0.7" stroke-width="0.85"/>
</g>
<path d="M162.1,82.0 C160.7,82.7 162.9,84.8 163.4,86.0 C163.9,87.2 164.4,87.8 164.8,89.0 C165.2,90.2 165.4,92.1 166.1,93.2 C166.8,94.3 168.1,95.3 169.2,95.5 C170.2,95.7 171.9,94.8 172.4,94.1 C172.9,93.4 172.2,92.3 171.9,91.4 C171.6,90.5 170.7,89.7 170.6,88.7 C170.5,87.7 171.3,86.3 171.5,85.2 C171.7,84.1 173.5,82.5 171.9,82.0 C170.3,81.5 163.5,81.3 162.1,82.0Z" fill="#add8e6" />
<path d="M176.9,82.0 L183.0,86.5 L188.0,89.3 L192.1,90.5 L196.5,88.3 L200.0,85.5 L202.8,82.0Z" fill="#add8e6" />
<path d="M79.6,82.9 L378.7,83.0 L379.8,90.2 L383.0,98.9 L388.5,107.6 L396.0,116.3 L402.6,121.7 L411.3,126.0 L420.0,128.3 L426.5,127.2 L434.0,125.4 L439.6,129.3 L448.3,128.3 L457.0,127.6 L463.5,131.5 L467.8,137.0 L474.3,138.0 L480.9,134.8 L488.5,140.2 L498.3,145.7 L509.0,148.9 L520.0,154.3 L528.7,157.2 L536.9,155.6 L546.1,159.0 L555.3,162.5 L562.2,167.1 L569.1,175.1 L576.0,182.0 L585.2,190.1 L594.5,199.3 L603.7,207.4 L611.7,214.3 L616.3,221.2 L623.2,224.6 L627.8,226.9 L629.0,229.0 L623.2,233.0 L622.1,241.1 L626.7,248.0 L632.4,250.3 L629.0,254.9 L623.2,259.5 L622.1,265.3 L620.9,271.0 L619.8,281.4 L617.5,274.5 L615.2,267.6 L606.0,268.7 L596.8,272.2 L587.6,279.1 L579.5,287.2 L576.7,296.4 L578.3,305.6 L582.9,314.8 L588.7,320.5 L586.4,326.3 L587.6,335.5 L588.7,342.4 L593.3,349.3 L596.8,357.4 L601.4,362.0 L602.5,368.9 L604.8,374.6 L597.9,378.1 L593.3,383.8 L591.7,393.0 L593.3,400.0 L594.5,403.0 L596.8,411.1 L593.3,418.0 L590.3,422.2 L596.8,423.8 L603.7,423.8 L609.4,429.5 L612.9,437.6 L609.4,444.5 L601.4,446.8 L595.6,446.8 L599.1,453.7 L603.7,459.5 L608.3,461.8 L609.4,458.3 L612.9,460.6 L611.7,465.2 L616.3,468.7 L619.8,474.4 L617.5,480.2 L617.5,485.9 L622.1,489.4 L618.6,492.8 L615.2,496.3 L620.9,499.7 L624.4,506.7 L631.3,509.0 L635.9,513.6 L636.4,523.9 L634.7,533.1 L631.3,542.3 L631.3,551.5 L625.5,553.8 L624.4,558.4 L619.8,559.6 L618.6,565.4 L622.1,570.0 L625.1,575.9 L622.7,582.0 L625.1,588.0 L628.8,592.9 L626.3,599.0 L619.0,603.8 L611.8,607.5 L606.9,613.5 L604.5,619.6 L600.8,617.2 L597.2,614.8 L591.1,612.3 L585.0,609.9 L580.2,613.5 L575.3,611.1 L569.2,606.3 L560.7,605.0 L554.7,601.4 L552.2,592.9 L552.2,583.2 L555.9,575.9 L557.1,568.6 L552.2,566.2 L544.9,571.0 L540.1,568.6 L536.4,562.5 L534.0,554.0 L532.8,541.9 L530.4,532.1 L526.9,529.4 L522.8,525.3 L516.6,517.1 L510.5,513.0 L502.3,507.9 L498.2,502.8 L494.1,500.7 L490.0,503.8 L485.9,498.7 L480.8,497.6 L475.7,502.8 L472.6,510.9 L468.5,514.0 L466.5,506.9 L463.4,504.8 L461.4,514.0 L458.3,510.9 L461.4,504.8 L457.3,502.8 L451.2,501.7 L457.3,498.7 L458.3,491.5 L455.2,484.3 L448.1,478.2 L441.9,476.2 L444.0,470.0 L439.9,462.9 L433.8,458.8 L432.7,450.6 L429.7,443.4 L426.6,435.2 L420.5,431.2 L415.3,424.0 L410.2,418.0 L407.4,412.5 L403.1,408.6 L397.7,413.1 L392.3,415.8 L387.0,420.2 L380.7,421.1 L376.2,416.7 L377.1,411.3 L371.8,407.7 L368.2,404.1 L367.3,399.7 L363.7,399.7 L361.9,403.2 L358.3,402.3 L353.0,398.8 L345.8,397.9 L338.6,397.0 L336.9,391.6 L336.0,384.4 L339.5,380.0 L344.9,376.4 L344.0,371.9 L339.5,369.2 L345.8,369.2 L353.0,370.1 L358.3,364.8 L361.0,358.5 L363.7,353.1 L361.9,350.4 L356.5,345.1 L351.2,339.7 L344.9,336.1 L340.4,337.9 L335.1,343.3 L327.9,345.1 L322.5,339.7 L317.2,337.9 L310.0,342.4 L305.2,345.3 L297.5,349.9 L290.3,350.9 L283.1,351.8 L277.7,354.5 L273.2,359.0 L267.2,365.0 L261.9,368.6 L260.1,373.1 L259.2,376.6 L255.6,379.3 L252.9,380.7 L247.5,380.2 L244.4,382.0 L244.0,384.2 L246.6,385.6 L252.0,386.0 L257.4,387.4 L261.0,388.3 L263.6,391.0 L262.8,393.6 L259.2,394.1 L255.6,392.8 L252.9,391.0 L249.3,390.5 L248.4,391.9 L244.0,388.3 L240.4,388.3 L235.0,389.6 L230.0,387.4 L221.4,386.0 L213.2,385.3 L205.0,387.4 L201.0,390.5 L194.8,390.5 L187.7,387.4 L180.5,384.7 L172.3,385.3 L162.1,386.4 L153.9,389.4 L145.7,393.5 L139.6,397.6 L133.4,401.7 L125.2,404.8 L117.1,407.9 L110.9,414.0 L105.8,421.2 L98.6,425.7 L88.4,428.3 L79.6,428.9 L79.6,325.5 L91.7,325.5 L102.0,322.4 L110.9,318.6 L119.9,314.7 L127.5,308.4 L133.9,303.2 L142.9,298.1 L146.7,291.7 L146.7,285.3 L137.8,281.0 L127.5,278.9 L123.7,272.5 L125.0,267.4 L132.7,265.6 L144.2,266.2 L151.3,263.6 L150.6,258.5 L142.9,254.6 L128.8,250.8 L114.8,249.5 L102.0,252.9 L95.0,249.5 L98.1,243.6 L104.5,238.5 L96.9,232.9 L94.3,226.5 L87.9,222.2 L79.6,229.0Z M448.3,82.9 L454.9,87.1 L459.0,88.0 L463.3,89.0 L467.0,91.0 L469.9,92.3 L472.5,91.8 L474.9,90.3 L479.0,87.0 L482.4,82.9Z M509.0,82.9 L515.7,89.1 L526.5,92.4 L535.2,94.6 L543.8,94.6 L553.0,92.3 L564.5,90.7 L573.7,86.5 L579.5,83.4 L583.0,83.2 L586.4,83.4 L593.3,87.7 L603.7,90.7 L611.7,87.7 L616.3,91.1 L618.6,98.0 L616.3,102.6 L617.5,111.8 L621.0,118.7 L619.8,124.5 L611.7,128.4 L603.7,129.1 L600.2,131.4 L600.2,135.3 L604.8,138.3 L612.9,138.3 L619.8,140.6 L626.7,136.7 L633.6,138.3 L640.5,138.3 L645.1,141.8 L649.7,145.2 L649.7,153.3 L654.3,153.3 L650.9,159.0 L649.7,164.8 L645.1,167.1 L640.5,169.4 L642.8,174.0 L647.4,176.3 L645.1,182.0 L649.7,185.5 L650.9,190.1 L655.5,187.8 L658.9,178.6 L663.5,170.5 L668.1,167.5 L673.9,169.4 L676.2,176.3 L670.4,183.2 L665.8,190.1 L661.2,199.3 L655.5,207.4 L652.0,212.0 L655.5,214.3 L658.9,220.0 L662.4,213.1 L668.1,208.5 L675.0,206.2 L681.9,208.5 L688.8,213.1 L693.4,222.3 L694.6,232.0 L699.2,236.5 L701.5,237.7 L701.5,92.3 L695.7,88.8 L690.0,82.9Z M701.5,259.5 L695.7,261.8 L691.1,267.6 L687.7,276.8 L691.1,280.2 L701.5,279.1Z M79.6,477.4 L85.3,477.4 L90.5,481.5 L96.6,483.6 L100.7,488.7 L107.9,492.8 L113.0,497.9 L117.1,505.0 L124.2,509.1 L125.2,517.3 L123.7,522.0 L125.0,528.2 L118.6,533.4 L113.5,538.5 L105.8,540.3 L98.1,538.5 L94.3,537.2 L91.0,542.3 L91.7,550.0 L93.0,557.6 L96.9,562.8 L105.8,566.6 L114.8,571.7 L123.7,571.7 L119.9,578.1 L116.0,585.8 L112.2,593.5 L109.1,601.4 L114.9,612.9 L119.5,619.9 L113.7,626.8 L119.5,629.1 L112.6,636.0 L119.5,645.2 L132.2,654.4 L146.0,661.3 L158.6,667.0 L160.9,664.7 L166.7,672.8 L174.7,679.7 L178.2,686.6 L185.1,688.9 L194.3,691.2 L198.9,697.0 L205.8,700.9 L215.0,699.3 L223.1,694.7 L228.8,688.9 L229.0,686.5 L227.0,681.1 L225.6,674.4 L220.3,666.3 L214.9,658.3 L209.5,651.6 L202.8,647.6 L194.8,646.2 L200.1,642.2 L205.5,634.1 L214.9,629.6 L228.3,626.9 L241.8,626.1 L251.2,630.1 L255.2,638.2 L257.9,646.2 L253.8,656.9 L248.5,665.0 L243.1,671.7 L243.1,678.4 L239.1,683.8 L232.8,686.8 L237.7,690.5 L245.8,695.9 L253.8,701.3 L259.2,704.0 L259.2,708.0 L252.5,712.0 L245.8,713.3 L244.4,717.4 L252.5,718.7 L263.2,720.9 L271.3,724.1 L274.0,725.4 L79.6,725.4Z M259.2,382.5 L261.9,380.2 L267.2,379.3 L272.6,379.8 L277.1,381.1 L279.8,383.4 L283.3,384.2 L288.7,382.9 L292.3,381.1 L293.2,378.4 L292.3,374.8 L288.7,372.2 L292.3,370.4 L297.7,367.7 L304.6,367.0 L311.7,369.7 L317.2,371.9 L321.6,377.3 L323.4,382.2 L325.2,388.0 L322.5,395.2 L324.3,400.6 L329.7,403.2 L335.1,404.1 L329.7,405.9 L333.3,407.7 L345.8,406.8 L351.2,407.7 L342.2,409.5 L333.3,411.3 L327.9,414.9 L327.0,422.0 L327.9,427.4 L323.4,431.9 L317.1,430.5 L313.5,434.1 L314.4,439.5 L311.7,441.3 L306.4,442.2 L301.0,444.0 L297.4,447.6 L293.8,449.4 L288.5,452.0 L283.1,455.6 L277.7,459.6 L274.1,458.3 L271.5,455.6 L267.0,452.0 L261.6,449.4 L257.1,446.7 L251.8,444.9 L250.9,441.3 L252.7,435.9 L251.8,430.6 L253.6,425.2 L252.7,420.7 L255.3,419.8 L259.8,420.7 L267.0,419.8 L274.1,420.7 L281.3,422.5 L287.6,422.5 L291.1,418.9 L293.8,412.7 L297.4,407.3 L301.9,401.9 L304.6,395.4 L297.7,396.3 L292.3,399.0 L286.9,402.6 L281.6,403.9 L278.0,402.6 L272.6,400.4 L267.2,400.8 L263.6,403.5 L261.9,400.8 L259.2,399.5 L263.6,397.7 L268.1,395.9 L272.6,394.5 L277.1,392.3 L278.0,389.6 L275.3,387.8 L270.8,386.9 L265.4,386.0 L261.0,384.7Z M259.2,539.3 L268.6,536.1 L279.4,532.1 L290.1,530.7 L300.8,531.3 L314.3,532.1 L327.7,531.3 L341.1,533.4 L343.3,538.8 L338.4,544.2 L334.4,550.9 L327.7,554.9 L326.3,563.0 L321.0,571.0 L319.6,577.7 L321.0,584.4 L315.6,591.2 L310.2,592.5 L304.9,597.9 L295.5,601.9 L290.1,597.9 L283.4,595.2 L279.4,591.2 L278.0,588.5 L286.1,585.8 L287.4,580.4 L283.4,572.4 L276.7,565.6 L270.0,560.3 L265.9,552.2 L261.9,545.5Z M262.7,592.5 L267.3,585.8 L274.0,586.6 L268.6,593.8Z M206.9,600.6 L205.5,592.5 L209.5,583.1 L214.9,575.9 L220.3,573.7 L229.7,576.4 L235.0,581.8 L233.7,588.5 L227.0,593.8 L220.3,596.5 L216.3,601.9 L210.9,601.9Z M198.8,597.9 L203.5,593.8 L204.2,599.2Z M261.9,708.0 L268.6,706.6 L276.7,705.3 L284.7,701.3 L290.1,699.9 L291.4,691.9 L290.1,686.5 L295.5,682.5 L298.2,686.5 L295.5,694.5 L298.2,699.9 L304.9,701.3 L306.2,705.3 L312.9,708.0 L319.6,709.3 L318.3,714.7 L311.6,718.7 L306.2,722.7 L298.2,724.6 L287.4,723.5 L280.7,720.0 L274.0,718.7 L268.6,714.7 L263.2,713.3Z M668.5,541.9 L663.5,546.7 L658.5,558.9 L655.5,571.0 L651.8,583.2 L648.2,595.3 L645.8,607.5 L645.3,617.2 L647.0,623.3 L650.6,622.0 L654.3,616.0 L657.9,607.5 L661.6,597.7 L664.0,588.0 L667.6,578.3 L671.3,568.6 L674.9,556.4 L673.7,546.7Z M671.6,240.0 L679.6,241.0 L688.4,238.4 L686.5,245.7 L681.9,252.6 L679.6,260.7 L677.3,261.8 L676.2,254.9 L672.3,248.0Z M640.5,216.0 L642.0,206.0 L646.0,199.0 L649.7,199.5 L649.5,208.0 L647.5,215.5 L643.0,217.0Z" fill="none" stroke="#0c1216" stroke-width="1.0" stroke-linejoin="round"/>
<path d="M166.1,496.2 L168.9,493.4 L174.5,492.9 L178.0,494.8 L177.3,497.6 L173.8,499.0 L171.0,500.4 L168.2,499.7 L166.4,498.0Z" fill="#1f7eb8" stroke="#0c1216" stroke-width="0.85" stroke-linejoin="round"/>
<path d="M157.0,502.5 L159.1,500.0 L161.9,502.5 L165.4,502.5 L168.6,501.8 L167.5,505.3 L165.4,508.1 L166.1,510.2 L163.3,511.6 L160.5,509.5 L159.8,506.7 L157.7,504.6Z" fill="#1f7eb8" stroke="#0c1216" stroke-width="0.85" stroke-linejoin="round"/>
<path d="M204.1,511.6 L206.2,506.7 L208.3,508.1 L213.9,510.2 L215.3,513.1 L212.5,514.5 L207.6,513.1Z" fill="#48a0be" stroke="#0c1216" stroke-width="0.85" stroke-linejoin="round"/>
<ellipse cx="474.3" cy="95.7" rx="1.2" ry="1.8" transform="rotate(0 474.3 95.7)" fill="#48a0be" stroke="#0c1216" stroke-width="0.85"/>
<ellipse cx="483" cy="95" rx="1" ry="1.5" transform="rotate(0 483 95)" fill="#48a0be" stroke="#0c1216" stroke-width="0.85"/>
<ellipse cx="642.8" cy="236.5" rx="3" ry="1.6" transform="rotate(30 642.8 236.5)" fill="#48a0be" stroke="#0c1216" stroke-width="0.85"/>
<ellipse cx="668.1" cy="233.7" rx="1.4" ry="1.4" transform="rotate(0 668.1 233.7)" fill="#48a0be" stroke="#0c1216" stroke-width="0.85"/>
<ellipse cx="682" cy="234.7" rx="1.3" ry="1.3" transform="rotate(0 682 234.7)" fill="#48a0be" stroke="#0c1216" stroke-width="0.85"/>
<ellipse cx="669" cy="217.7" rx="1.2" ry="2" transform="rotate(0 669 217.7)" fill="#48a0be" stroke="#0c1216" stroke-width="0.85"/>
<ellipse cx="653.2" cy="288.3" rx="1" ry="1.6" transform="rotate(-30 653.2 288.3)" fill="#48a0be" stroke="#0c1216" stroke-width="0.85"/>
<ellipse cx="675.7" cy="306.7" rx="2" ry="3" transform="rotate(25 675.7 306.7)" fill="#48a0be" stroke="#0c1216" stroke-width="0.85"/>
<ellipse cx="700.8" cy="305" rx="1" ry="3" transform="rotate(0 700.8 305)" fill="#48a0be" stroke="#0c1216" stroke-width="0.85"/>
<ellipse cx="532" cy="576.5" rx="4" ry="3" transform="rotate(-20 532 576.5)" fill="#45ad9f" stroke="#0c1216" stroke-width="0.85"/>
<ellipse cx="561" cy="618.5" rx="8.5" ry="4.8" transform="rotate(0 561 618.5)" fill="#45ad9f" stroke="#0c1216" stroke-width="0.85"/>
<ellipse cx="453.5" cy="532" rx="4.3" ry="5.6" transform="rotate(15 453.5 532)" fill="#45ad9f" stroke="#0c1216" stroke-width="0.85"/>
<ellipse cx="444" cy="486.4" rx="1.8" ry="1" transform="rotate(0 444 486.4)" fill="#45ad9f" stroke="#0c1216" stroke-width="0.85"/>
<ellipse cx="517" cy="538" rx="0.9" ry="0.9" transform="rotate(0 517 538)" fill="#45ad9f" stroke="#0c1216" stroke-width="0.85"/>
<ellipse cx="609.5" cy="426.5" rx="1.5" ry="1" transform="rotate(30 609.5 426.5)" fill="#48a0be" stroke="#0c1216" stroke-width="0.85"/>
<ellipse cx="612.5" cy="452.5" rx="1.6" ry="1.6" transform="rotate(0 612.5 452.5)" fill="#48a0be" stroke="#0c1216" stroke-width="0.85"/>
<ellipse cx="356.1" cy="411.7" rx="5.6" ry="2.2" transform="rotate(-32 356.1 411.7)" fill="#45ad9f" stroke="#0c1216" stroke-width="0.85"/>
<ellipse cx="328" cy="374.6" rx="2.3" ry="4.1" transform="rotate(20 328 374.6)" fill="#48a0be" stroke="#0c1216" stroke-width="0.85"/>
<ellipse cx="328.3" cy="396.1" rx="2.4" ry="1.7" transform="rotate(0 328.3 396.1)" fill="#48a0be" stroke="#0c1216" stroke-width="0.85"/>
<ellipse cx="349" cy="367.5" rx="1" ry="0.8" transform="rotate(0 349 367.5)" fill="#48a0be" stroke="#0c1216" stroke-width="0.85"/>
<ellipse cx="250.5" cy="397.2" rx="3.3" ry="1.7" transform="rotate(8 250.5 397.2)" fill="#2537a2" stroke="#0c1216" stroke-width="0.85"/>
<ellipse cx="228.5" cy="393.9" rx="1.6" ry="1.4" transform="rotate(0 228.5 393.9)" fill="#1f6396" stroke="#0c1216" stroke-width="0.85"/>
<ellipse cx="247.7" cy="438.4" rx="3" ry="1.1" transform="rotate(0 247.7 438.4)" fill="#1f7eb8" stroke="#0c1216" stroke-width="0.85"/>
<ellipse cx="103.9" cy="469.4" rx="3.2" ry="1.8" transform="rotate(-10 103.9 469.4)" fill="#1f6396" stroke="#0c1216" stroke-width="0.85"/>
<ellipse cx="103" cy="489.5" rx="2.2" ry="2.2" transform="rotate(0 103 489.5)" fill="#1f6396" stroke="#0c1216" stroke-width="0.85"/>
<ellipse cx="122.4" cy="539" rx="1.4" ry="2" transform="rotate(0 122.4 539)" fill="#1f6396" stroke="#0c1216" stroke-width="0.85"/>
<ellipse cx="172.4" cy="505" rx="0.9" ry="0.9" transform="rotate(0 172.4 505)" fill="#1f7eb8" stroke="#0c1216" stroke-width="0.85"/>
<ellipse cx="171" cy="510.7" rx="1.9" ry="1.4" transform="rotate(0 171 510.7)" fill="#1f7eb8" stroke="#0c1216" stroke-width="0.85"/>
<ellipse cx="226.8" cy="501.1" rx="2.3" ry="1.3" transform="rotate(15 226.8 501.1)" fill="#1f6396" stroke="#0c1216" stroke-width="0.85"/>
<ellipse cx="240.1" cy="503.9" rx="2.5" ry="1.8" transform="rotate(0 240.1 503.9)" fill="#1f6396" stroke="#0c1216" stroke-width="0.85"/>
<ellipse cx="171.6" cy="580.6" rx="5.6" ry="4.8" transform="rotate(-30 171.6 580.6)" fill="#48a0be" stroke="#0c1216" stroke-width="0.85"/>
<ellipse cx="157" cy="581" rx="1.4" ry="1" transform="rotate(0 157 581)" fill="#48a0be" stroke="#0c1216" stroke-width="0.85"/>
<ellipse cx="239.8" cy="566.6" rx="4.4" ry="1.7" transform="rotate(-30 239.8 566.6)" fill="#45ad9f" stroke="#0c1216" stroke-width="0.85"/>
<ellipse cx="323.6" cy="718.3" rx="3" ry="1.2" transform="rotate(-35 323.6 718.3)" fill="#48a0be" stroke="#0c1216" stroke-width="0.85"/>
<ellipse cx="309.7" cy="671.2" rx="1" ry="1" transform="rotate(0 309.7 671.2)" fill="#222" stroke="#0c1216" stroke-width="0.85"/>
<path d="M575.1,664 L596.2,664 L605.3,675.5 L615.4,664 L635.2,664 L635.2,697.2 L619.3,697.2 L619.3,681.2 L605.3,692.8 L591.4,681.2 L591.4,697.2 L575.1,697.2Z" fill="#1616b6"/>
<circle cx="575.1" cy="664" r="10.5" fill="#ffd200"/>
<text x="643.4" y="675.6" font-size="14.6" fill="#1616b6" textLength="47.8" lengthAdjust="spacingAndGlyphs">Meteo</text>
<text x="643.4" y="688.2" font-size="8" fill="#1616b6" textLength="32.4" lengthAdjust="spacingAndGlyphs">Όλα για</text>
<text x="643.4" y="697.2" font-size="8" fill="#1616b6" textLength="40.2" lengthAdjust="spacingAndGlyphs">τον καιρό</text>
<text x="207" y="110.8" class="st">33</text>
<text x="207" y="152.8" class="st">38</text>
<text x="148" y="197.8" class="st">44</text>
<text x="209" y="254.8" class="st">50</text>
<text x="354.6" y="134.5" class="st">51</text>
<text x="347.4" y="178.5" class="st">65</text>
<text x="409.4" y="187.4" class="st">108</text>
<text x="333.9" y="244.7" class="st">36</text>
<text x="429.8" y="256.2" class="st">68</text>
<text x="470" y="232.8" class="st">20</text>
<text x="275.6" y="352.8" class="st">131</text>
<text x="356.2" y="326.6" class="st">20</text>
<text x="359" y="343.3" class="st">24</text>
<text x="99" y="420.3" class="st">44</text>
<text x="103.8" y="493.5" class="st">64</text>
<text x="344.4" y="395.8" class="st">22</text>
<text x="275" y="551.8" class="st">16</text>
<text x="227" y="714.8" class="st">37</text>
<text x="473" y="285.8" class="st">13</text>
<text x="507.1" y="285.8" class="st">23</text>
<text x="511.2" y="290.3" class="st">30</text>
<text x="485.2" y="297.0" class="st">23</text>
<text x="491.4" y="303.8" class="st">25</text>
<text x="523.1" y="314.4" class="st">14</text>
<text x="486.7" y="325.3" class="st">38</text>
<text x="487.9" y="332.8" class="st">40</text>
<text x="481.2" y="337.3" class="st">38</text>
<text x="511.8" y="337.9" class="st">29</text>
<text x="440.6" y="325.5" class="st">39</text>
<text x="445.3" y="332.0" class="st">34</text>
<text x="490" y="344.5" class="st">40</text>
<text x="496.5" y="348.2" class="st">44</text>
<text x="506.3" y="355.3" class="st">42</text>
<text x="574.9" y="330.1" class="st">30</text>
<text x="436.3" y="356.7" class="st">19</text>
<text x="464.6" y="359.7" class="st">24</text>
<text x="477.1" y="361.1" class="st">35</text>
<text x="482.8" y="367.6" class="st">28</text>
<text x="496.1" y="364.5" class="st">35</text>
<text x="494.5" y="369.2" class="st">28</text>
<text x="527.8" y="373.7" class="st">27</text>
<text x="537.2" y="384.6" class="st">25</text>
<text x="452.5" y="385.6" class="st">19</text>
<text x="479.7" y="385.6" class="st">25</text>
<text x="454.4" y="399.8" class="st">23</text>
<text x="414.5" y="314.0" class="st">30</text>
<text x="425.2" y="317.8" class="st">31</text>
<text x="403" y="345.9" class="st">15</text>
<text x="408.1" y="353.0" class="st">16</text>
<text x="392.3" y="359.7" class="st">15</text>
<text x="394" y="367.6" class="st">10</text>
<text x="421.8" y="371.2" class="st">17</text>
<text x="392.1" y="378.4" class="st">9</text>
<text x="428.5" y="387.4" class="st">15</text>
<text x="390.6" y="398.0" class="st">10</text>
<text x="424.6" y="400.1" class="st">8</text>
<text x="433" y="403.3" class="st">12</text>
<text x="430.5" y="407.1" class="st">14</text>
<text x="446.3" y="410.0" class="st">15</text>
<text x="386.6" y="415.5" class="st">14</text>
<text x="402.8" y="414.0" class="st">10</text>
<text x="435.7" y="456.3" class="st">7</text>
<text x="452.8" y="420.7" class="st">15</text>
<text x="512.5" y="443.6" class="st">25</text>
<text x="548.5" y="452.2" class="st">16</text>
<text x="576" y="445.5" class="st">16</text>
<text x="596.8" y="453.8" class="st">21</text>
<text x="496.6" y="481.4" class="st">20</text>
<text x="477.7" y="491.7" class="st">15</text>
<text x="548.3" y="490.8" class="st">22</text>
<text x="571.4" y="508.8" class="st">23</text>
<text x="535.2" y="562.6" class="st">12</text>
<text x="621" y="577.3" class="st">16</text>
<text x="597.1" y="614.4" class="st">6</text>
<text x="594.5" y="361.3" class="st">25</text>
</g>
<rect x="79.6" y="82.9" width="621.9" height="642.5" fill="none" stroke="#1a1a1a" stroke-width="1.15"/>
<line x1="63" x2="79.6" y1="130.5" y2="130.5" stroke="#222" stroke-width="0.9"/>
<text x="53.6" y="135.6" class="ax" text-anchor="end">38°20'<tspan dx='2.2'>N</tspan></text>
<line x1="63" x2="79.6" y1="249.5" y2="249.5" stroke="#222" stroke-width="0.9"/>
<text x="53.6" y="254.6" class="ax" text-anchor="end">38°10'<tspan dx='2.2'>N</tspan></text>
<line x1="63" x2="79.6" y1="368.5" y2="368.5" stroke="#222" stroke-width="0.9"/>
<text x="53.6" y="373.6" class="ax" text-anchor="end">38°N</text>
<line x1="63" x2="79.6" y1="487.5" y2="487.5" stroke="#222" stroke-width="0.9"/>
<text x="53.6" y="492.6" class="ax" text-anchor="end">37°50'<tspan dx='2.2'>N</tspan></text>
<line x1="63" x2="79.6" y1="606.5" y2="606.5" stroke="#222" stroke-width="0.9"/>
<text x="53.6" y="611.6" class="ax" text-anchor="end">37°40'<tspan dx='2.2'>N</tspan></text>
<line x1="63" x2="79.6" y1="725.5" y2="725.5" stroke="#222" stroke-width="0.9"/>
<text x="53.6" y="730.6" class="ax" text-anchor="end">37°30'<tspan dx='2.2'>N</tspan></text>
<line x1="164.3" x2="164.3" y1="725.4" y2="742" stroke="#222" stroke-width="0.9"/>
<text x="164.3" y="763.8" class="ax" text-anchor="middle">23°15'<tspan dx='2.2'>E</tspan></text>
<line x1="305.9" x2="305.9" y1="725.4" y2="742" stroke="#222" stroke-width="0.9"/>
<text x="305.9" y="763.8" class="ax" text-anchor="middle">23°30'<tspan dx='2.2'>E</tspan></text>
<line x1="447.5" x2="447.5" y1="725.4" y2="742" stroke="#222" stroke-width="0.9"/>
<text x="447.5" y="763.8" class="ax" text-anchor="middle">23°45'<tspan dx='2.2'>E</tspan></text>
<line x1="589.1" x2="589.1" y1="725.4" y2="742" stroke="#222" stroke-width="0.9"/>
<text x="589.1" y="763.8" class="ax" text-anchor="middle">24°E</text>
<rect x="720.3" y="82.90" width="25.700000000000045" height="36.00" fill="#7b3f6c"/>
<rect x="720.3" y="118.60" width="25.700000000000045" height="36.00" fill="#3f1a5c"/>
<rect x="720.3" y="154.30" width="25.700000000000045" height="36.00" fill="#3f1a5c"/>
<rect x="720.3" y="190.00" width="25.700000000000045" height="36.00" fill="#2537a2"/>
<rect x="720.3" y="225.70" width="25.700000000000045" height="36.00" fill="#1f6396"/>
<rect x="720.3" y="261.40" width="25.700000000000045" height="36.00" fill="#1f6396"/>
<rect x="720.3" y="297.10" width="25.700000000000045" height="36.00" fill="#1f7eb8"/>
<rect x="720.3" y="332.80" width="25.700000000000045" height="36.00" fill="#48a0be"/>
<rect x="720.3" y="368.50" width="25.700000000000045" height="36.00" fill="#48a0be"/>
<rect x="720.3" y="404.20" width="25.700000000000045" height="36.00" fill="#45ad9f"/>
<rect x="720.3" y="439.90" width="25.700000000000045" height="36.00" fill="#45ad9f"/>
<rect x="720.3" y="475.60" width="25.700000000000045" height="36.00" fill="#62c2a8"/>
<rect x="720.3" y="511.30" width="25.700000000000045" height="36.00" fill="#a5edbe"/>
<rect x="720.3" y="547.00" width="25.700000000000045" height="36.00" fill="#a5edbe"/>
<rect x="720.3" y="582.70" width="25.700000000000045" height="36.00" fill="#cffdd3"/>
<rect x="720.3" y="618.40" width="25.700000000000045" height="36.00" fill="#f1f7c6"/>
<rect x="720.3" y="654.10" width="25.700000000000045" height="36.00" fill="#f1f7c6"/>
<rect x="720.3" y="689.80" width="25.700000000000045" height="36.00" fill="#ffffff"/>
<line x1="720.3" x2="746.0" y1="118.60" y2="118.60" stroke="#000" stroke-opacity="0.55" stroke-width="0.8"/>
<line x1="720.3" x2="746.0" y1="154.30" y2="154.30" stroke="#000" stroke-opacity="0.55" stroke-width="0.8"/>
<line x1="720.3" x2="746.0" y1="190.00" y2="190.00" stroke="#000" stroke-opacity="0.55" stroke-width="0.8"/>
<line x1="720.3" x2="746.0" y1="225.70" y2="225.70" stroke="#000" stroke-opacity="0.55" stroke-width="0.8"/>
<line x1="720.3" x2="746.0" y1="261.40" y2="261.40" stroke="#000" stroke-opacity="0.55" stroke-width="0.8"/>
<line x1="720.3" x2="746.0" y1="297.10" y2="297.10" stroke="#000" stroke-opacity="0.55" stroke-width="0.8"/>
<line x1="720.3" x2="746.0" y1="332.80" y2="332.80" stroke="#000" stroke-opacity="0.55" stroke-width="0.8"/>
<line x1="720.3" x2="746.0" y1="368.50" y2="368.50" stroke="#000" stroke-opacity="0.55" stroke-width="0.8"/>
<line x1="720.3" x2="746.0" y1="404.20" y2="404.20" stroke="#000" stroke-opacity="0.55" stroke-width="0.8"/>
<line x1="720.3" x2="746.0" y1="439.90" y2="439.90" stroke="#000" stroke-opacity="0.55" stroke-width="0.8"/>
<line x1="720.3" x2="746.0" y1="475.60" y2="475.60" stroke="#000" stroke-opacity="0.55" stroke-width="0.8"/>
<line x1="720.3" x2="746.0" y1="511.30" y2="511.30" stroke="#000" stroke-opacity="0.55" stroke-width="0.8"/>
<line x1="720.3" x2="746.0" y1="547.00" y2="547.00" stroke="#000" stroke-opacity="0.55" stroke-width="0.8"/>
<line x1="720.3" x2="746.0" y1="582.70" y2="582.70" stroke="#000" stroke-opacity="0.55" stroke-width="0.8"/>
<line x1="720.3" x2="746.0" y1="618.40" y2="618.40" stroke="#000" stroke-opacity="0.55" stroke-width="0.8"/>
<line x1="720.3" x2="746.0" y1="654.10" y2="654.10" stroke="#000" stroke-opacity="0.55" stroke-width="0.8"/>
<line x1="720.3" x2="746.0" y1="689.80" y2="689.80" stroke="#000" stroke-opacity="0.55" stroke-width="0.8"/>
<rect x="720.3" y="82.9" width="25.700000000000045" height="642.6" fill="none" stroke="#000" stroke-opacity="0.45" stroke-width="0.8"/>
<text x="758" y="124.00" class="cb">100</text>
<text x="758" y="159.70" class="cb">90</text>
<text x="758" y="195.40" class="cb">80</text>
<text x="758" y="231.10" class="cb">70</text>
<text x="758" y="266.80" class="cb">60</text>
<text x="758" y="302.50" class="cb">50</text>
<text x="758" y="338.20" class="cb">40</text>
<text x="758" y="373.90" class="cb">30</text>
<text x="758" y="409.60" class="cb">20</text>
<text x="758" y="445.30" class="cb">15</text>
<text x="758" y="481.00" class="cb">10</text>
<text x="758" y="516.70" class="cb">5</text>
<text x="758" y="552.40" class="cb">4</text>
<text x="758" y="588.10" class="cb">2</text>
<text x="758" y="623.80" class="cb">1</text>
<text x="758" y="659.50" class="cb">0.5</text>
<text x="758" y="695.20" class="cb">0.2</text>
<text x="10.6" y="799.6" class="foot">National Observatory of Athens, Greece - meteo.gr</text>
</svg>
</body></html>
